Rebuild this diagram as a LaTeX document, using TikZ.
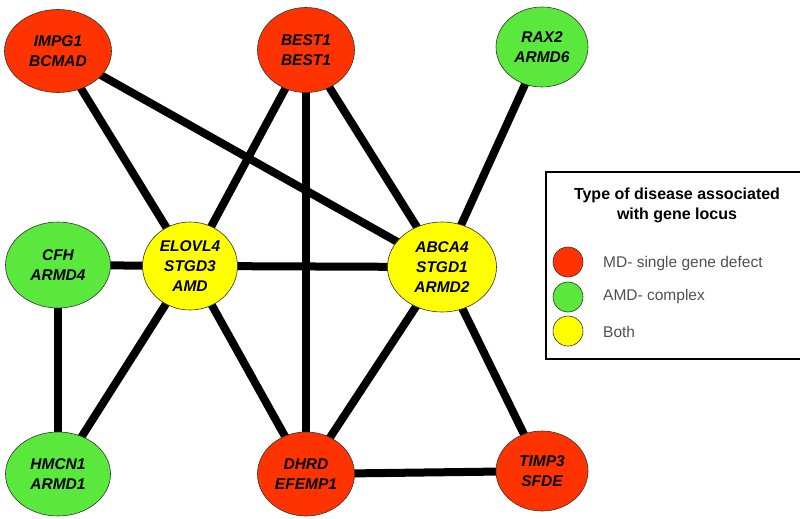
\documentclass[tikz,border=0pt]{standalone}
\usepackage{fontspec}
\setmainfont{Liberation Sans}
\usetikzlibrary{backgrounds,shapes.geometric}
\definecolor{mdred}{RGB}{255,51,0}
\definecolor{amdgreen}{RGB}{90,232,60}
\definecolor{bothyellow}{RGB}{255,255,0}
\definecolor{legtext}{RGB}{80,80,80}
\tikzset{
  gene/.style={ellipse, draw=black!80, line width=0.6pt, inner sep=0pt,
    minimum width=#1, font=\bfseries\itshape\fontsize{15.5}{20}\selectfont, align=center},
  gene/.default=100pt,
  link/.style={line width=8pt},
  legdot/.style={circle, draw=black!80, line width=0.6pt, minimum size=30pt, inner sep=0pt},
  legtxt/.style={anchor=west, text=legtext, font=\fontsize{15.5}{18}\selectfont, inner sep=0pt}
}
\begin{document}
\begin{tikzpicture}[x=1pt,y=-1pt]
\useasboundingbox (0,0) rectangle (800,519);
\node[gene=107pt, minimum height=83pt, fill=mdred] (impg) at (58,51) {IMPG1\\BCMAD};
\node[gene=97pt, minimum height=85pt, fill=mdred] (best) at (306,50) {BEST1\\BEST1};
\node[gene=92pt, minimum height=80pt, fill=amdgreen] (rax) at (542,47) {RAX2\\ARMD6};
\node[gene=105pt, minimum height=86pt, fill=amdgreen] (cfh) at (58,265) {CFH\\ARMD4};
\node[gene=95pt, minimum height=88pt, fill=bothyellow] (elovl) at (190,266) {ELOVL4\\STGD3\\AMD};
\node[gene=109pt, minimum height=90pt, fill=bothyellow] (abca) at (442,267) {ABCA4\\STGD1\\ARMD2};
\node[gene=105pt, minimum height=84pt, fill=amdgreen] (hmcn) at (58,474) {HMCN1\\ARMD1};
\node[gene=97pt, minimum height=84pt, fill=mdred] (dhrd) at (306,474) {DHRD\\EFEMP1};
\node[gene=92pt, minimum height=80pt, fill=mdred] (timp) at (542,471) {TIMP3\\SFDE};
\begin{scope}[on background layer]
\draw[link] (impg.center) -- (elovl.center);
\draw[link] (impg.center) -- (abca.center);
\draw[link] (best.center) -- (elovl.center);
\draw[link] (best.center) -- (abca.center);
\draw[link] (best.center) -- (dhrd.center);
\draw[link] (rax.center) -- (abca.center);
\draw[link] (cfh.center) -- (elovl.center);
\draw[link] (elovl.center) -- (abca.center);
\draw[link] (cfh.center) -- (hmcn.center);
\draw[link] (elovl.center) -- (hmcn.center);
\draw[link] (elovl.center) -- (dhrd.center);
\draw[link] (abca.center) -- (dhrd.center);
\draw[link] (abca.center) -- (timp.center);
\draw[link] (dhrd.center) -- (timp.center);
\end{scope}
% legend
\node[draw=black, line width=2pt, minimum width=262pt, minimum height=187pt, anchor=north west, inner sep=0pt] (legend) at (545,171) {};
\node[font=\bfseries\fontsize{16}{20}\selectfont, align=center] (legtitle) at (677,205) {Type of disease associated\\with gene locus};
\node[legdot, fill=mdred] (d1) at (568,262) {};
\node[legdot, fill=amdgreen] (d2) at (568,297) {};
\node[legdot, fill=bothyellow] (d3) at (568,331) {};
\node[legtxt] (t1) at (603,263) {MD- single gene defect};
\node[legtxt] (t2) at (603,296) {AMD- complex};
\node[legtxt] (t3) at (603,332) {Both};
\end{tikzpicture}
\end{document}
